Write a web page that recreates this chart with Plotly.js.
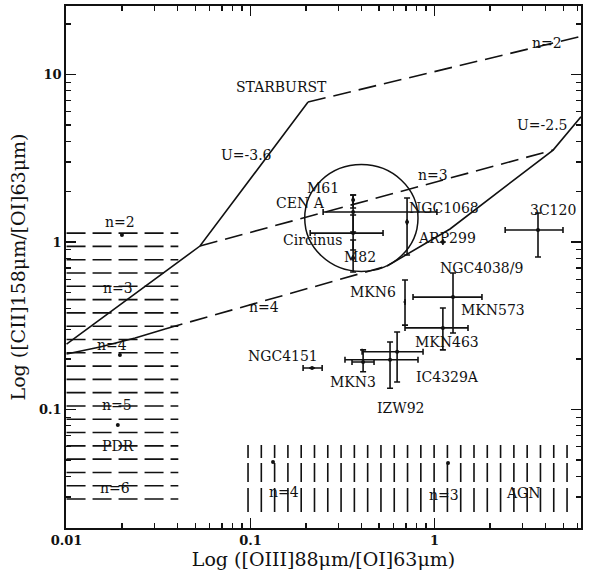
<!DOCTYPE html>
<html><head><meta charset="utf-8">
<script src="https://cdn.plot.ly/plotly-3.0.1.min.js"></script>
<style>html,body{margin:0;padding:0;background:#fff}</style>
</head><body><div id="chart" style="width:592px;height:585px"></div>
<script>
// ---- Data ----
const galaxy   = ['M61','CEN A','Circinus','M82','NGC1068','ARP299','3C120','MKN573','MKN463','MKN6','NGC4151','MKN3','IZW92','IC4329A'];
const ratioOIII = [0.361, 0.361, 0.361, 0.361, 0.709, 1.11, 3.65, 1.26, 1.11, 0.691, 0.216, 0.409, 0.573, 0.626];
const ratioCII  = [1.78, 1.51, 1.13, 0.803, 1.316, 1.00, 1.18, 0.469, 0.307, 0.438, 0.177, 0.192, 0.198, 0.221];
const oiiiLo = [0.361, 0.248, 0.211, 0.361, 0.709, 1.11, 2.42, 0.764, 0.691, 0.691, 0.193, 0.356, 0.326, 0.404];
const oiiiHi = [0.361, 1.03, 0.525, 0.361, 0.709, 1.11, 4.99, 1.81, 1.52, 0.691, 0.245, 0.469, 0.813, 0.866];
const ciiLo  = [1.596, 1.147, 0.896, 0.662, 0.836, 1.00, 0.814, 0.286, 0.227, 0.319, 0.177, 0.168, 0.134, 0.146];
const ciiHi  = [1.909, 1.91, 1.45, 1.028, 1.83, 1.00, 1.49, 0.653, 0.404, 0.593, 0.177, 0.227, 0.253, 0.290];
const upperLimitX = ['MKN6'];

// model grid lines
const u36X = [0.01, 0.0531, 0.2054];          const u36Y = [0.246, 0.946, 6.85];
const u25X = [0.552, 1.214, 4.41, 6.25];      const u25Y = [0.719, 1.196, 3.54, 5.6];
const n2X  = [0.2054, 6.25];                  const n2Y  = [6.85, 16.9];
const n3X  = [0.0531, 4.41];                  const n3Y  = [0.946, 3.54];
const n4X  = [0.0343, 0.552];                 const n4Y  = [0.3026, 0.719];
const n4lowX = [0.01, 0.0152, 0.0236, 0.0343]; const n4lowY = [0.2145, 0.236, 0.267, 0.3026];

// PDR and AGN model points
const pdrX = [0.020, 0.0195, 0.019];   const pdrY = [1.10, 0.2115, 0.0808];
const agnX = [0.1325, 1.184];          const agnY = [0.0486, 0.048];

// starburst circle (x range, y range)
const circleX = [0.197, 0.813];  const circleY = [0.667, 2.90];

// text labels
const labelText = ['STARBURST','U=-3.6','U=-2.5','n=2','n=3','n=4','M61','CEN A','Circinus','M82','NGC1068','ARP299','3C120','NGC4038/9','MKN6','MKN573','MKN463','NGC4151','MKN3','IC4329A','IZW92',
                   'n=2','n=3','n=4','n=5','PDR','n=6','n=4','n=3','AGN'];
const labelX = [0.1466,0.0945,3.84,4.09,0.981,0.1184,0.2477,0.1858,0.2159,0.3938,1.126,1.169,4.41,1.789,0.4633,2.08,1.169,0.1502,0.3606,1.169,0.6494,
                0.01953,0.01905,0.01767,0.01881,0.01905,0.01835,0.152,1.126,3.027];
const labelY = [8.42,3.31,4.99,15.4,2.51,0.409,2.10,1.71,1.028,0.814,1.596,1.056,1.552,0.6995,0.503,0.3927,0.253,0.2086,0.146,0.1563,0.102,
                1.316,0.531,0.2427,0.1064,0.0605,0.034,0.0322,0.0309,0.0317];

// hatched regions (value bounds)
const pdrBoxX = [0.01, 0.0405];  const pdrBoxY = [0.0292, 1.13];  const pdrRows = 21;
const agnBoxX = [0.0969, 5.25];  const agnBoxY = [0.0244, 0.0614]; const agnCols = 25;

// ---- Build ----
const FONT = 'DejaVu Serif, Liberation Serif, serif';
const ink = '#111';
const lineT = (x, y, dash, w) => ({x, y, type:'scatter', mode:'lines', hoverinfo:'skip', showlegend:false,
  line:{color:ink, width:w||1.6, dash:dash||'solid'}});

const traces = [
  lineT(u36X, u36Y), lineT(u25X, u25Y), lineT(n4lowX, n4lowY),
  lineT(n2X, n2Y, '18px,8px'), lineT(n3X, n3Y, '18px,8px'), lineT(n4X, n4Y, '18px,8px'),
  {x:ratioOIII, y:ratioCII, text:galaxy, type:'scatter', mode:'markers', showlegend:false,
   marker:{color:ink, size:4, symbol: galaxy.map(g => upperLimitX.includes(g) ? 'triangle-left' : 'circle')},
   error_x:{type:'data', symmetric:false, array: oiiiHi.map((v,i)=>v-ratioOIII[i]), arrayminus: ratioOIII.map((v,i)=>v-oiiiLo[i]), color:ink, thickness:1.6, width:3},
   error_y:{type:'data', symmetric:false, array: ciiHi.map((v,i)=>v-ratioCII[i]), arrayminus: ratioCII.map((v,i)=>v-ciiLo[i]), color:ink, thickness:1.6, width:3}},
  {x:pdrX, y:pdrY, type:'scatter', mode:'markers', showlegend:false, marker:{color:ink, size:4}},
  {x:agnX, y:agnY, type:'scatter', mode:'markers', showlegend:false, marker:{color:ink, size:4}}
];

const shapes = [];
const lg = Math.log10;
for (let i = 0; i < pdrRows; i++) {
  const v = Math.pow(10, lg(pdrBoxY[1]) - i*(lg(pdrBoxY[1])-lg(pdrBoxY[0]))/(pdrRows-1));
  shapes.push({type:'line', xref:'x', yref:'y', x0:pdrBoxX[0], x1:pdrBoxX[1], y0:v, y1:v, layer:'below',
    line:{color:ink, width:1.6, dash:'19px,7px'}});
}
for (let i = 0; i < agnCols; i++) {
  const v = Math.pow(10, lg(agnBoxX[0]) + i*(lg(agnBoxX[1])-lg(agnBoxX[0]))/(agnCols-1));
  shapes.push({type:'line', xref:'x', yref:'y', x0:v, x1:v, y0:agnBoxY[1], y1:agnBoxY[0], layer:'below',
    line:{color:ink, width:1.6, dash:'13px,5px,19px,6px,30px'}});
}
shapes.push({type:'circle', xref:'x', yref:'y', x0:circleX[0], x1:circleX[1], y0:circleY[0], y1:circleY[1],
  line:{color:ink, width:1.5}});

const annotations = labelText.map((t,i) => ({text:t, x:lg(labelX[i]), y:lg(labelY[i]), xref:'x', yref:'y',
  showarrow:false, font:{family:FONT, size:14, color:ink}}));

const minorX = [0.02,0.03,0.04,0.05,0.06,0.07,0.08,0.09,0.2,0.3,0.4,0.5,0.6,0.7,0.8,0.9,2,3,4,5,6];
const minorY = [0.03,0.04,0.05,0.06,0.07,0.08,0.09,0.2,0.3,0.4,0.5,0.6,0.7,0.8,0.9,2,3,4,5,6,7,8,9,20];

const axisBase = {type:'log', showgrid:false, zeroline:false, showline:true, linecolor:ink, linewidth:1.8,
  mirror:'allticks', ticks:'inside', ticklen:10, tickwidth:1.5, tickcolor:ink, tickmode:'array',
  tickfont:{family:FONT, size:13, color:ink, weight:'bold'}};

const layout = {
  width:592, height:585, margin:{l:66, r:11, t:6, b:57},
  paper_bgcolor:'#fff', plot_bgcolor:'#fff', showlegend:false,
  xaxis:Object.assign({}, axisBase, {range:[-2.003, 0.796], tickvals:[0.01,0.1,1], ticktext:['0.01','0.1','1'],
    minor:{tickmode:'array', tickvals:minorX, ticks:'inside', ticklen:5, tickwidth:1.3, tickcolor:ink},
    title:{text:'Log ([OIII]88μm/[OI]63μm)', font:{family:FONT, size:19, color:ink}, standoff:4}}),
  yaxis:Object.assign({}, axisBase, {range:[-1.7075, 1.409], tickvals:[0.1,1,10], ticktext:['0.1','1','10'],
    minor:{tickmode:'array', tickvals:minorY, ticks:'inside', ticklen:5, tickwidth:1.3, tickcolor:ink},
    title:{text:'Log ([CII]158μm/[OI]63μm)', font:{family:FONT, size:19, color:ink}, standoff:8}}),
  shapes, annotations
};

Plotly.newPlot('chart', traces, layout, {displayModeBar:false, staticPlot:true});
</script></body></html>
